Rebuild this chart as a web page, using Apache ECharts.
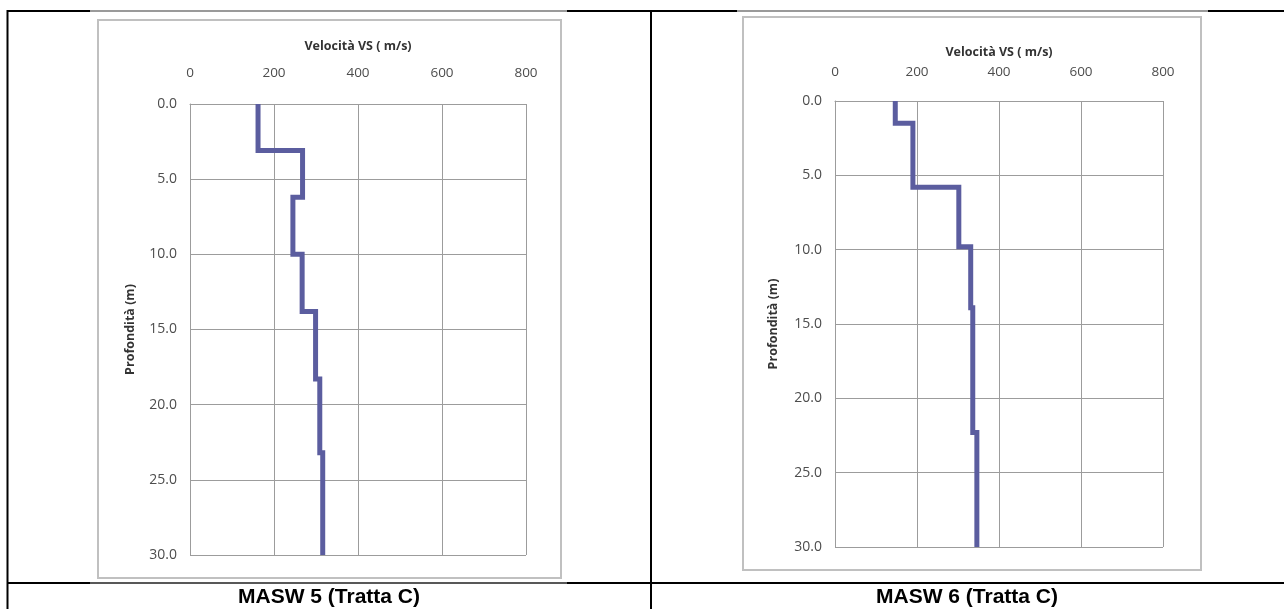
<!DOCTYPE html>
<html>
<head>
<meta charset="utf-8">
<script src="https://cdn.jsdelivr.net/npm/echarts@6/dist/echarts.min.js"></script>
<style>
html,body{margin:0;padding:0;background:#fff;}
#chart{width:1284px;height:609px;}
</style>
</head>
<body>
<div id="chart"></div>
<script>
// ---- data ----
const xTicks = [0, 200, 400, 600, 800];
const yTicks = [0, 5, 10, 15, 20, 25, 30];
const captions = ['MASW 5 (Tratta C)', 'MASW 6 (Tratta C)'];
const xTitle = 'Velocità VS ( m/s)';
const yTitle = 'Profondità (m)';

// MASW 5: layer boundaries (m) and Vs (m/s) of each layer
const masw5Depth = [0, 3.1, 6.2, 10.0, 13.8, 18.3, 23.2, 30];
const masw5Vs    = [162, 268, 245, 267, 299, 309, 316];

// MASW 6
const masw6Depth = [0, 1.5, 5.8, 9.8, 13.9, 22.3, 30];
const masw6Vs    = [147, 190, 302, 331, 336, 346];

function stepPoints(depths, vs) {
  const pts = [];
  for (let i = 0; i < vs.length; i++) {
    pts.push([vs[i], depths[i]]);
    pts.push([vs[i], depths[i + 1]]);
  }
  return pts;
}

const gridColor = '#9c9c9c';
const labelColor = '#4d4d4d';
const font = '"Open Sans", "Noto Sans", sans-serif';

function xAxisCfg(idx, nameGap, margin) {
  return {
    gridIndex: idx, type: 'value', position: 'top',
    min: xTicks[0], max: xTicks[xTicks.length - 1], interval: xTicks[1] - xTicks[0],
    name: xTitle, nameLocation: 'middle', nameGap: nameGap,
    nameTextStyle: { fontFamily: font, fontWeight: 'bold', fontSize: 12.5, color: '#333' },
    axisLine: { show: true, lineStyle: { color: gridColor, width: 1 } },
    axisTick: { show: false },
    axisLabel: { margin: margin, fontFamily: font, fontSize: 13.5, color: labelColor },
    splitLine: { show: true, lineStyle: { color: gridColor, width: 1 } }
  };
}
function yAxisCfg(idx, nameGap) {
  return {
    gridIndex: idx, type: 'value', inverse: true,
    min: yTicks[0], max: yTicks[yTicks.length - 1], interval: yTicks[1] - yTicks[0],
    name: yTitle, nameLocation: 'middle', nameGap: nameGap, nameRotate: 90,
    nameTextStyle: { fontFamily: font, fontWeight: 'bold', fontSize: 12.5, color: '#333' },
    axisLine: { show: true, lineStyle: { color: gridColor, width: 1 } },
    axisTick: { show: false },
    axisLabel: { margin: 13, fontFamily: font, fontSize: 14, color: labelColor,
                 formatter: v => v.toFixed(1) },
    splitLine: { show: true, lineStyle: { color: gridColor, width: 1 } }
  };
}

const black = '#000';
const frameColor = '#c0c0c0';
const capFont = 'bold 21px "Liberation Sans", Arial, sans-serif';
const graphics = [
  // table borders
  { type: 'line', shape: { x1: 7, y1: 11, x2: 1284, y2: 11 }, style: { stroke: black, lineWidth: 2 } },
  { type: 'line', shape: { x1: 7.5, y1: 10, x2: 7.5, y2: 609 }, style: { stroke: black, lineWidth: 2 } },
  { type: 'line', shape: { x1: 651, y1: 10, x2: 651, y2: 609 }, style: { stroke: black, lineWidth: 2 } },
  { type: 'line', shape: { x1: 7, y1: 583, x2: 1284, y2: 583 }, style: { stroke: black, lineWidth: 2 } },
  // image edges over borders
  { type: 'line', shape: { x1: 90, y1: 11, x2: 567, y2: 11 }, style: { stroke: '#9a9a9a', lineWidth: 2 } },
  { type: 'line', shape: { x1: 90, y1: 583, x2: 567, y2: 583 }, style: { stroke: '#b0b0b0', lineWidth: 1 } },
  { type: 'line', shape: { x1: 737, y1: 11, x2: 1208, y2: 11 }, style: { stroke: '#9a9a9a', lineWidth: 2 } },
  // chart frames
  { type: 'rect', shape: { x: 98, y: 20, width: 463, height: 558 }, style: { fill: 'none', stroke: frameColor, lineWidth: 2 } },
  { type: 'rect', shape: { x: 743, y: 17, width: 458, height: 553 }, style: { fill: 'none', stroke: frameColor, lineWidth: 2 } },
  // captions
  { type: 'text', x: 329, y: 597, style: { text: captions[0], font: capFont, fill: '#000', textAlign: 'center', textVerticalAlign: 'middle' } },
  { type: 'text', x: 967, y: 597, style: { text: captions[1], font: capFont, fill: '#000', textAlign: 'center', textVerticalAlign: 'middle' } }
];

const lineColor = '#5b5d9f';
const chart = echarts.init(document.getElementById('chart'), null, { renderer: 'canvas' });
chart.setOption({
  animation: false,
  backgroundColor: '#fff',
  grid: [
    { left: 190, right: 1284 - 526, top: 104, bottom: 609 - 555 },
    { left: 835, right: 1284 - 1163, top: 101, bottom: 609 - 547 }
  ],
  xAxis: [xAxisCfg(0, 51, 24), xAxisCfg(1, 42, 22)],
  yAxis: [yAxisCfg(0, 53), yAxisCfg(1, 55)],
  series: [
    { type: 'line', xAxisIndex: 0, yAxisIndex: 0, data: stepPoints(masw5Depth, masw5Vs),
      showSymbol: false, symbol: 'none', lineStyle: { color: lineColor, width: 5, join: 'miter' }, z: 5 },
    { type: 'line', xAxisIndex: 1, yAxisIndex: 1, data: stepPoints(masw6Depth, masw6Vs),
      showSymbol: false, symbol: 'none', lineStyle: { color: lineColor, width: 5, join: 'miter' }, z: 5 }
  ],
  graphic: graphics
});
</script>
</body>
</html>
